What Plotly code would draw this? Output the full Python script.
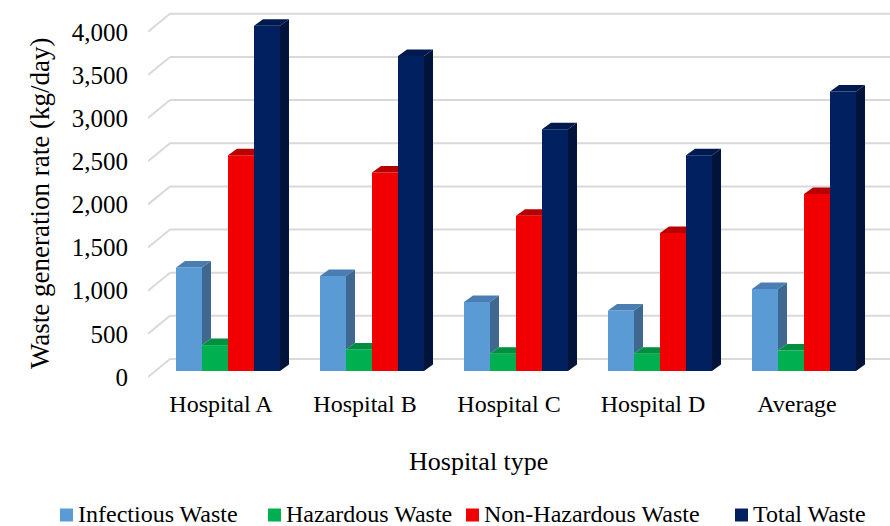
import plotly.graph_objects as go

# ---- data (kg/day) ----
categories = ["Hospital A", "Hospital B", "Hospital C", "Hospital D", "Average"]
series_names = ["Infectious Waste", "Hazardous Waste", "Non-Hazardous Waste", "Total Waste"]
infectious = [1200, 1100, 800, 700, 950]
hazardous = [300, 250, 200, 200, 237.5]
non_hazardous = [2500, 2300, 1800, 1600, 2050]
total = [4000, 3650, 2800, 2500, 3237.5]
y_ticks = [0, 500, 1000, 1500, 2000, 2500, 3000, 3500, 4000]

series_values = [infectious, hazardous, non_hazardous, total]
front_colors = ["#5B9BD5", "#00B050", "#F00000", "#002060"]
top_colors = ["#4A7EB2", "#008F40", "#B80000", "#001A4F"]
side_colors = ["#3F6891", "#007A36", "#A00000", "#00133A"]

# ---- pseudo-3D geometry (pixel based, converted into axis units) ----
W, H = 890, 526
PL, PT, PB = 148, 0, 146           # plot-area margins
PLOT_W = W - PL
PLOT_H = H - PT - PB
CAT_PX = 144.0                      # pixels per category
FIRST_CENTER_PX = 228.0             # x pixel of first category (bar plane)
BASE_PX = 371.0                     # y pixel of zero on the bar plane
Y_PX_PER_UNIT = 0.0863

x_lo = (PL - FIRST_CENTER_PX) / CAT_PX
x_hi = (W - FIRST_CENTER_PX) / CAT_PX
y_lo = (BASE_PX - (PT + PLOT_H)) / Y_PX_PER_UNIT
y_hi = (BASE_PX - PT) / Y_PX_PER_UNIT


def dx(px):
    return px / CAT_PX


def dy(px):
    # positive px = upwards on screen
    return px / Y_PX_PER_UNIT


def paper_x(px):
    return (px - PL) / PLOT_W


def paper_y(py):
    return 1 - (py - PT) / PLOT_H


BARGAP = 40 / CAT_PX
BAR_W = (1 - BARGAP) / len(series_values)
DEPTH_DX, DEPTH_DY = dx(9), dy(6.5)          # bar depth
FRONT_DX, FRONT_DY = dx(-7), dy(-6)          # front plane vs bar plane
BACK_DX, BACK_DY = dx(15), dy(12)            # back wall vs bar plane

fig = go.Figure()

# front faces of the columns
for name, vals, col in zip(series_names, series_values, front_colors):
    fig.add_trace(go.Bar(
        name=name, x=list(range(len(categories))), y=vals,
        marker=dict(color=col, line=dict(width=0)),
        customdata=categories, showlegend=False,
        hovertemplate="%{customdata}<br>" + name + ": %{y:,}<extra></extra>",
    ))

# top and side faces
for j, (vals, tcol, scol) in enumerate(zip(series_values, top_colors, side_colors)):
    tx, ty, sx, sy = [], [], [], []
    for i, v in enumerate(vals):
        left = i + (j - len(series_values) / 2) * BAR_W
        right = left + BAR_W
        nxt = series_values[j + 1][i] if j + 1 < len(series_values) else 0
        if nxt > v:
            # right part of the top is hidden behind the taller neighbour
            tx += [left, right, right, left + DEPTH_DX, left, None]
        else:
            tx += [left, right, right + DEPTH_DX, left + DEPTH_DX, left, None]
        ty += [v, v, v + DEPTH_DY, v + DEPTH_DY, v, None]
        if v > nxt:
            sx += [right, right, right + DEPTH_DX, right + DEPTH_DX, right, None]
            sy += [nxt, v, v + DEPTH_DY, nxt + DEPTH_DY, nxt, None]
    fig.add_trace(go.Scatter(x=tx, y=ty, mode="lines", fill="toself", fillcolor=tcol,
                             line=dict(width=0), hoverinfo="skip", showlegend=False))
    if sx:
        fig.add_trace(go.Scatter(x=sx, y=sy, mode="lines", fill="toself", fillcolor=scol,
                                 line=dict(width=0), hoverinfo="skip", showlegend=False))

# back-wall gridlines with their diagonal returns to the front plane
shapes = []
for v in y_ticks:
    fx, fy = x_lo, v + FRONT_DY
    bx, by = x_lo + (BACK_DX - FRONT_DX), v + BACK_DY
    shapes.append(dict(type="line", xref="x", yref="y", x0=fx, y0=fy, x1=bx, y1=by,
                       line=dict(color="#D9D9D9", width=2), layer="below"))
    shapes.append(dict(type="line", xref="x", yref="y", x0=bx, y0=by, x1=x_hi, y1=by,
                       line=dict(color="#D9D9D9", width=2), layer="below"))

serif = "Liberation Serif, Times New Roman, serif"

annotations = [
    dict(text="Waste generation rate (kg/day)", textangle=-90, showarrow=False,
         xref="paper", yref="paper", x=paper_x(40), y=paper_y(203),
         xanchor="center", yanchor="middle", font=dict(size=27, family=serif)),
    dict(text="Hospital type", showarrow=False,
         xref="paper", yref="paper", x=paper_x(478), y=paper_y(461),
         xanchor="center", yanchor="middle", font=dict(size=26, family=serif)),
]

# legend row: colour key squares with their labels
legend_square_px = [60, 268, 466, 735]
LEG_Y, LEG_SQ, LEG_GAP = 514, 13, 4
for name, col, sx0 in zip(series_names, front_colors, legend_square_px):
    shapes.append(dict(type="rect", xref="paper", yref="paper",
                       x0=paper_x(sx0), x1=paper_x(sx0 + LEG_SQ),
                       y0=paper_y(LEG_Y + 1 + LEG_SQ / 2), y1=paper_y(LEG_Y + 1 - LEG_SQ / 2),
                       fillcolor=col, line=dict(width=0)))
    annotations.append(dict(text=name, showarrow=False, xref="paper", yref="paper",
                            x=paper_x(sx0 + LEG_SQ + LEG_GAP), y=paper_y(LEG_Y),
                            xanchor="left", yanchor="middle", borderpad=0,
                            font=dict(size=24, family=serif)))

fig.update_layout(
    width=W, height=H,
    margin=dict(l=PL, r=0, t=PT, b=PB, autoexpand=False),
    paper_bgcolor="white", plot_bgcolor="white",
    barmode="group", bargap=BARGAP, bargroupgap=0,
    font=dict(family=serif, size=24, color="#000000"),
    shapes=shapes, annotations=annotations,
    showlegend=False,
)

fig.update_xaxes(
    range=[x_lo, x_hi], showgrid=False, zeroline=False, showline=False,
    tickmode="array", tickvals=[i + FRONT_DX for i in range(len(categories))],
    ticktext=categories, ticks="", ticklabelstandoff=7, fixedrange=True,
    automargin=False,
)
fig.update_yaxes(
    range=[y_lo, y_hi], showgrid=False, zeroline=False, showline=False,
    tickmode="array", tickvals=[v + FRONT_DY for v in y_ticks],
    ticktext=[f"{v:,}" for v in y_ticks], ticks="", ticklabelstandoff=19, fixedrange=True,
    tickfont=dict(size=25), automargin=False,
)

fig.write_html("out.html")
